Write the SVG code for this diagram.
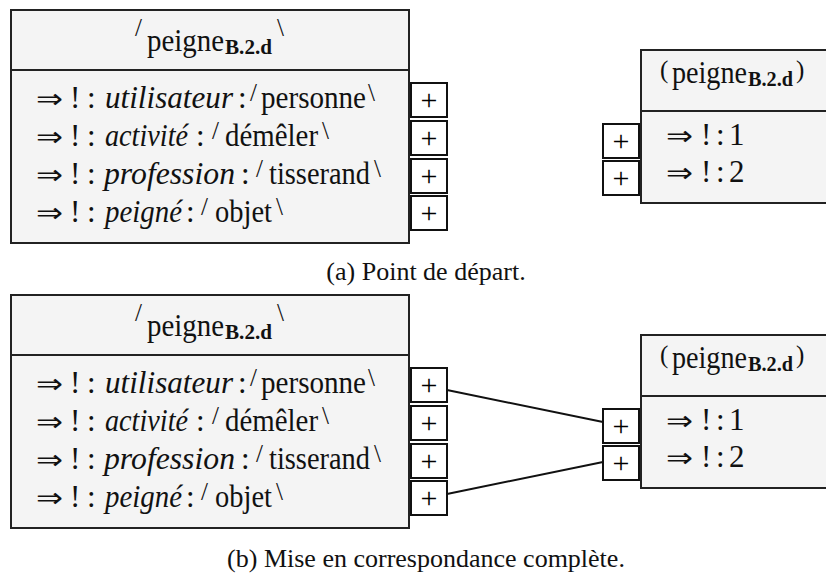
<svg xmlns="http://www.w3.org/2000/svg" width="826" height="574" viewBox="0 0 826 574">
<style>
.box{fill:#f4f4f4;stroke:#222;stroke-width:2}
.div{stroke:#222;stroke-width:2}
.port{fill:#fff;stroke:#111;stroke-width:2}
.t{font-family:"Liberation Serif","DejaVu Serif",serif;font-size:31px;fill:#111}
.ar{font-family:"DejaVu Sans","DejaVu Serif",sans-serif;font-size:27px;font-weight:normal}
.i{font-style:italic}
.sub{font-weight:bold;font-size:20px}
.sl{font-size:25px}
.pl{font-family:"Liberation Serif","DejaVu Serif",serif;font-size:30px;fill:#000;text-anchor:middle}
.cap{font-family:"Liberation Serif","DejaVu Serif",serif;font-size:26px;fill:#111;text-anchor:middle}
.con{stroke:#111;stroke-width:2;fill:none}
</style>
<defs>
<g id="portL">
<rect class="port" x="411" y="83" width="36" height="34"/>
<text class="pl" x="429" y="110">+</text>
</g>
<g id="leftbox">
<rect class="box" x="11" y="10" width="398" height="233"/>
<line class="div" x1="11" y1="70" x2="409" y2="70"/>
<text class="t"><tspan class="sl" x="135" y="36">/</tspan><tspan x="147" y="51" textLength="77" lengthAdjust="spacingAndGlyphs">peigne</tspan><tspan class="sub" x="225" y="54" textLength="47" lengthAdjust="spacingAndGlyphs">B.2.d</tspan><tspan class="sl" x="277" y="36">\</tspan></text>
<text class="t"><tspan class="ar" x="36" y="108" textLength="27" lengthAdjust="spacingAndGlyphs">⇒</tspan><tspan x="70" y="108">!</tspan><tspan x="87" y="108">:</tspan><tspan class="i" x="105" y="108" textLength="128" lengthAdjust="spacingAndGlyphs">utilisateur</tspan><tspan x="238" y="108">:</tspan><tspan class="sl" x="250" y="101">/</tspan><tspan x="261" y="108" textLength="105" lengthAdjust="spacingAndGlyphs">personne</tspan><tspan class="sl" x="368" y="101">\</tspan></text>
<text class="t"><tspan class="ar" x="36" y="146" textLength="27" lengthAdjust="spacingAndGlyphs">⇒</tspan><tspan x="70" y="146">!</tspan><tspan x="87" y="146">:</tspan><tspan class="i" x="105" y="146" textLength="83" lengthAdjust="spacingAndGlyphs">activité</tspan><tspan x="196" y="146">:</tspan><tspan class="sl" x="212" y="139">/</tspan><tspan x="225" y="146" textLength="93" lengthAdjust="spacingAndGlyphs">démêler</tspan><tspan class="sl" x="322" y="139">\</tspan></text>
<text class="t"><tspan class="ar" x="36" y="184" textLength="27" lengthAdjust="spacingAndGlyphs">⇒</tspan><tspan x="70" y="184">!</tspan><tspan x="87" y="184">:</tspan><tspan class="i" x="104" y="184" textLength="131" lengthAdjust="spacingAndGlyphs">profession</tspan><tspan x="241" y="184">:</tspan><tspan class="sl" x="256" y="177">/</tspan><tspan x="269" y="184" textLength="101" lengthAdjust="spacingAndGlyphs">tisserand</tspan><tspan class="sl" x="374" y="177">\</tspan></text>
<text class="t"><tspan class="ar" x="36" y="222" textLength="27" lengthAdjust="spacingAndGlyphs">⇒</tspan><tspan x="70" y="222">!</tspan><tspan x="87" y="222">:</tspan><tspan class="i" x="105" y="222" textLength="77" lengthAdjust="spacingAndGlyphs">peigné</tspan><tspan x="186" y="222">:</tspan><tspan class="sl" x="201" y="215">/</tspan><tspan x="215" y="222" textLength="57" lengthAdjust="spacingAndGlyphs">objet</tspan><tspan class="sl" x="276" y="215">\</tspan></text>
</g>
<g id="rightbox">
<rect class="box" x="641" y="50" width="200" height="153"/>
<line class="div" x1="641" y1="111" x2="830" y2="111"/>
<text class="t"><tspan class="sl" x="660" y="78" font-size="21">(</tspan><tspan x="672" y="83" textLength="75" lengthAdjust="spacingAndGlyphs">peigne</tspan><tspan class="sub" x="748" y="86" textLength="45" lengthAdjust="spacingAndGlyphs">B.2.d</tspan><tspan class="sl" x="796" y="78" font-size="21">)</tspan></text>
<text class="t"><tspan class="ar" x="666" y="145" textLength="27" lengthAdjust="spacingAndGlyphs">⇒</tspan><tspan x="701" y="145">!</tspan><tspan x="716" y="145">:</tspan><tspan x="729" y="145">1</tspan></text>
<text class="t"><tspan class="ar" x="666" y="182" textLength="27" lengthAdjust="spacingAndGlyphs">⇒</tspan><tspan x="701" y="182">!</tspan><tspan x="716" y="182">:</tspan><tspan x="729" y="182">2</tspan></text>
</g>
</defs>

<g id="a-left-node"><use href="#leftbox"/></g>
<g id="a-left-ports">
<use href="#portL"/>
<use href="#portL" y="38"/>
<use href="#portL" y="76"/>
<use href="#portL" y="113"/>
</g>
<g id="a-right-node"><use href="#rightbox"/></g>
<g id="a-right-ports">
<use href="#portL" x="192" y="41"/>
<use href="#portL" x="192" y="78"/>
</g>
<text class="cap" x="426" y="280">(a) Point de départ.</text>

<g id="b-left-node"><use href="#leftbox" y="285"/></g>
<g id="b-left-ports">
<use href="#portL" y="285"/>
<use href="#portL" y="323"/>
<use href="#portL" y="361"/>
<use href="#portL" y="398"/>
</g>
<g id="b-right-node"><use href="#rightbox" y="285"/></g>
<g id="b-right-ports">
<use href="#portL" x="192" y="326"/>
<use href="#portL" x="192" y="363"/>
</g>
<g id="connectors">
<line class="con" x1="447" y1="390" x2="603" y2="422"/>
<line class="con" x1="447" y1="494" x2="603" y2="462"/>
</g>
<text class="cap" x="426" y="567">(b) Mise en correspondance complète.</text>
</svg>
